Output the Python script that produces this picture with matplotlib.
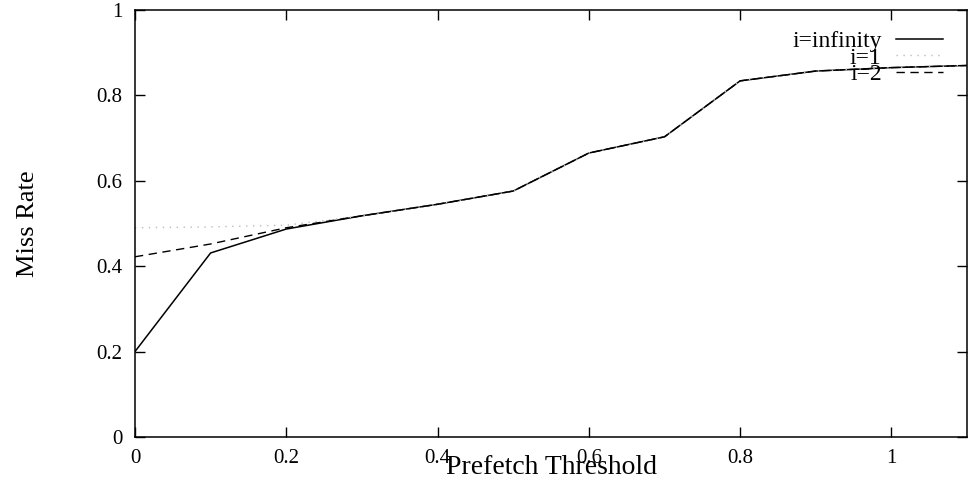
import matplotlib.pyplot as plt
import numpy as np

plt.rcParams['font.family'] = ['Liberation Serif', 'DejaVu Serif']

threshold = [0.0, 0.1, 0.2, 0.3, 0.4, 0.5, 0.6, 0.7, 0.8, 0.9, 1.0, 1.1]
miss_inf = [0.20, 0.431, 0.487, 0.518, 0.545, 0.576, 0.665, 0.703, 0.834, 0.857, 0.865, 0.870]
miss_i1 = [0.490, 0.492, 0.496, 0.518, 0.545, 0.576, 0.665, 0.703, 0.834, 0.857, 0.865, 0.870]
miss_i2 = [0.422, 0.452, 0.490, 0.518, 0.545, 0.576, 0.665, 0.703, 0.834, 0.857, 0.865, 0.870]

fig = plt.figure(figsize=(9.71, 4.94), dpi=100)
ax = fig.add_axes([0.139, 0.1154, 0.857, 0.8644])

ax.plot(threshold, miss_inf, color='black', lw=1.1, label='i=infinity')
ax.plot(threshold, miss_i1, color='#bbbbbb', lw=1.0, ls=(0, (1, 4)), label='i=1')
ax.plot(threshold, miss_i2, color='black', lw=1.0, ls=(0, (6, 4)), label='i=2')

ax.set_xlim(0, 1.1)
ax.set_ylim(0, 1)
ax.set_xticks([0, 0.2, 0.4, 0.6, 0.8, 1])
ax.set_xticklabels(['0', '0.2', '0.4', '0.6', '0.8', '1'])
ax.set_yticks([0, 0.2, 0.4, 0.6, 0.8, 1])
ax.set_yticklabels(['0', '0.2', '0.4', '0.6', '0.8', '1'])
ax.tick_params(direction='in', length=7, width=1, top=True, right=True,
               labelsize=15, pad=9)
for s in ax.spines.values():
    s.set_linewidth(1.1)

ax.set_xlabel('Prefetch Threshold', fontsize=20, labelpad=-10)
ax.set_ylabel('Miss Rate', fontsize=19, labelpad=41)

leg = ax.legend(loc='upper right', bbox_to_anchor=(0.991, 0.99), frameon=False,
                markerfirst=False, fontsize=17, labelspacing=-0.22,
                handlelength=2.0, handletextpad=0.6, borderpad=0.2)
leg.set_zorder(0)

fig.savefig('out.png', dpi=100)
